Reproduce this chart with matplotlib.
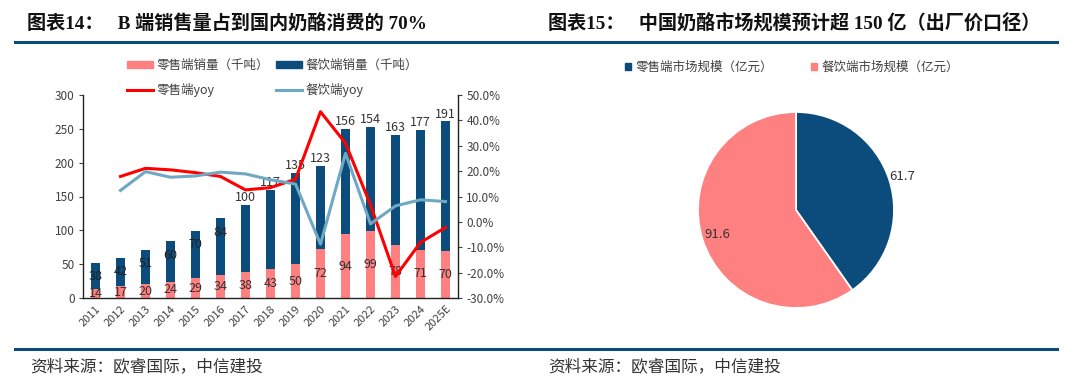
import numpy as np
import matplotlib
matplotlib.use("Agg")
import matplotlib.pyplot as plt
from matplotlib.patches import Patch
from matplotlib.lines import Line2D

plt.rcParams['font.family'] = ['Noto Sans CJK SC', 'DejaVu Sans']
plt.rcParams['axes.unicode_minus'] = False

# ---- data: left chart ----
years = ['2011', '2012', '2013', '2014', '2015', '2016', '2017', '2018',
         '2019', '2020', '2021', '2022', '2023', '2024', '2025E']
retail_vol = [14, 17, 20, 24, 29, 34, 38, 43, 50, 72, 94, 99, 78, 71, 70]
food_vol = [38, 42, 51, 60, 70, 84, 100, 117, 135, 123, 156, 154, 163, 177, 191]
retail_yoy = [np.nan, 17.9, 21.1, 20.5, 19.4, 17.9, 12.6, 13.5, 16.8, 43.4,
              31.0, 6.7, -21.5, -8.1, -2.2]
food_yoy = [np.nan, 12.4, 19.8, 17.6, 18.1, 19.6, 18.9, 16.6, 14.9, -8.8,
            27.0, -0.8, 6.3, 8.7, 8.0]

# ---- data: right chart ----
pie_labels = ['零售端市场规模（亿元）', '餐饮端市场规模（亿元）']
pie_values = [61.7, 91.6]

DARK = '#0b4c7c'
PINK = '#ff8080'
RED = '#ff0000'
LBLUE = '#6fa8c2'
TXT = '#404040'

W, H = 1080, 384
fig = plt.figure(figsize=(W / 100, H / 100), dpi=100)


def fx(px):
    return px / W


def fy(py):
    return 1 - py / H


# titles and decorative rules
title_font = ['Liberation Serif', 'Noto Sans CJK SC']
fig.text(fx(27), fy(24), '图表14：   B 端销售量占到国内奶酪消费的 70%', family=title_font,
         fontsize=13.8, fontweight='bold', va='center', ha='left', color='#111111')
fig.text(fx(548), fy(24), '图表15：   中国奶酪市场规模预计超 150 亿（出厂价口径）', family=title_font,
         fontsize=13.8, fontweight='bold', va='center', ha='left', color='#111111')
fig.add_artist(Line2D([fx(15), fx(1057)], [fy(42), fy(42)], color=DARK, lw=2.2))
fig.add_artist(Line2D([fx(15), fx(1057)], [fy(349), fy(349)], color=DARK, lw=2.2))
fig.text(fx(30), fy(367), '资料来源：欧睿国际，中信建投', fontsize=12, va='center',
         ha='left', color='#333333', style='italic')
fig.text(fx(548), fy(367), '资料来源：欧睿国际，中信建投', fontsize=12, va='center',
         ha='left', color='#333333', style='italic')

# ---- left chart ----
ax = fig.add_axes([fx(83), fy(298), fx(458) - fx(83), fy(95) - fy(298)])
x = np.arange(len(years))
bw = 0.38
ax.bar(x, retail_vol, bw, color=PINK, zorder=2)
ax.bar(x, food_vol, bw, bottom=retail_vol, color=DARK, zorder=2)
ax.set_xlim(-0.5, len(years) - 0.5)
ax.set_ylim(0, 300)
ax.set_yticks(range(0, 301, 50))
ax.set_xticks(x)
ax.set_xticklabels(years, rotation=45, ha='right', rotation_mode='anchor')
ax.tick_params(axis='x', length=0, labelsize=8, colors=TXT, pad=4)
ax.tick_params(axis='y', length=3, labelsize=8.5, colors=TXT, pad=3)
for s in ['top', 'right']:
    ax.spines[s].set_visible(False)
for s in ['left', 'bottom']:
    ax.spines[s].set_color('#222222')
    ax.spines[s].set_linewidth(1)

for i in range(len(years)):
    ax.text(x[i], retail_vol[i] / 2, str(retail_vol[i]), ha='center', va='center',
            fontsize=9, color='#333333', zorder=4)
    top = retail_vol[i] + food_vol[i]
    if i < 6:
        ax.annotate(str(food_vol[i]), (x[i], top), xytext=(0, -10), textcoords='offset points',
                    ha='center', va='center', fontsize=9, color='#222222', zorder=4)
    else:
        ax.annotate(str(food_vol[i]), (x[i], top), xytext=(0, 0.5), textcoords='offset points',
                    ha='center', va='bottom', fontsize=9, color='#333333', zorder=4)

ax2 = ax.twinx()
ax2.plot(x, retail_yoy, color=RED, lw=2.2, zorder=3)
ax2.plot(x, food_yoy, color=LBLUE, lw=2.2, zorder=3)
ax2.set_ylim(-30, 50)
ax2.set_yticks(range(-30, 51, 10))
ax2.set_yticklabels(['%.1f%%' % v for v in range(-30, 51, 10)])
ax2.tick_params(axis='y', length=3, labelsize=8.5, colors=TXT, pad=3)
for s in ['top', 'left', 'bottom']:
    ax2.spines[s].set_visible(False)
ax2.spines['right'].set_color('#222222')
ax2.spines['right'].set_linewidth(1)

handles = [Patch(color=PINK), Line2D([], [], color=RED, lw=2.2),
           Patch(color=DARK), Line2D([], [], color=LBLUE, lw=2.2)]
names = ['零售端销量（千吨）', '零售端yoy', '餐饮端销量（千吨）', '餐饮端yoy']
fig.legend(handles, names, ncol=2, loc='upper left', bbox_to_anchor=(fx(127), fy(59)),
           frameon=False, fontsize=9, handlelength=2.1, handleheight=0.55,
           handletextpad=0.3, columnspacing=0.5, labelspacing=0.85, labelcolor=TXT,
           borderpad=0, borderaxespad=0)

# ---- right chart ----
r = 98
pax = fig.add_axes([fx(796 - r), fy(210 + r), fx(2 * r), (2 * r) / H])
wedges, _ = pax.pie(pie_values, colors=[DARK, PINK], startangle=90, counterclock=False,
                    wedgeprops=dict(edgecolor='white', linewidth=1.3))
pax.set_xlim(-1, 1)
pax.set_ylim(-1, 1)
pax.set_aspect('equal')
for w, v, d in zip(wedges, pie_values, [1.14, 0.84]):
    ang = np.deg2rad((w.theta1 + w.theta2) / 2)
    pax.text(d * np.cos(ang), d * np.sin(ang), '%.1f' % v, ha='center', va='center',
             fontsize=9.5, color='#333333', clip_on=False)

sq = [Patch(color=DARK), Patch(color=PINK)]
fig.legend(sq, pie_labels, ncol=2, loc='center', bbox_to_anchor=(fx(792), fy(67)),
           frameon=False, fontsize=9, handlelength=0.5, handleheight=0.5,
           handletextpad=0.4, columnspacing=3.0, labelcolor=TXT, borderpad=0)

fig.savefig('out.png', dpi=100)
